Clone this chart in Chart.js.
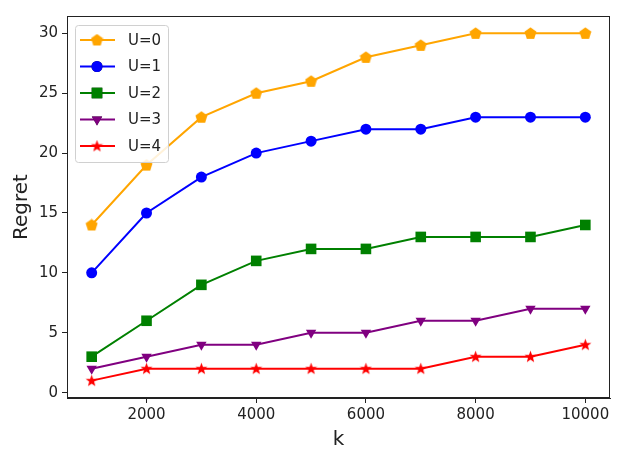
<!DOCTYPE html>
<html>
<head>
<meta charset="utf-8">
<script src="https://cdn.jsdelivr.net/npm/chart.js@4.4.0/dist/chart.umd.min.js"></script>
<style>
    html, body { margin: 0; padding: 0; background: #fff; }
</style>
</head>
<body>
<canvas id="regret_chart" width="628" height="471"></canvas>
<script>
// data
const k_values = [1000, 2000, 3000, 4000, 5000, 6000, 7000, 8000, 9000, 10000];
const regret_u0 = [14, 19, 23, 25, 26, 28, 29, 30, 30, 30];
const regret_u1 = [10, 15, 18, 20, 21, 22, 22, 23, 23, 23];
const regret_u2 = [3, 6, 9, 11, 12, 12, 13, 13, 13, 14];
const regret_u3 = [2, 3, 4, 4, 5, 5, 6, 6, 7, 7];
const regret_u4 = [1, 2, 2, 2, 2, 2, 2, 3, 3, 4];
const series_labels = ['U=0', 'U=1', 'U=2', 'U=3', 'U=4'];
const x_ticks = [2000, 4000, 6000, 8000, 10000];
const y_ticks = [0, 5, 10, 15, 20, 25, 30];

const tickFont = { family: 'DejaVu Sans', size: 15 };

// custom markers (pentagon and filled star) drawn on small canvases
function makeMarker(color, sides, inner) {
    let c = document.createElement('canvas');
    c.width = 13; c.height = 13;
    let ctx = c.getContext('2d');
    let n = inner ? sides * 2 : sides;
    ctx.beginPath();
    for (let i = 0; i < n; i++) {
        let r = (inner && i % 2 == 1) ? inner : 6.3;
        let a = -Math.PI / 2 + i * 2 * Math.PI / n;
        let px = 6.5 + r * Math.cos(a), py = 6.8 + r * Math.sin(a);
        if (i == 0) ctx.moveTo(px, py); else ctx.lineTo(px, py);
    }
    ctx.closePath();
    ctx.fillStyle = color;
    ctx.fill();
    return c;
}
const pentagon = makeMarker('#FFA500', 5, 0);
const star = makeMarker('#FF0000', 5, 2.6);

function toPoints(vals) {
    return vals.map((v, i) => ({ x: k_values[i], y: v }));
}

const styles = [
    { color: '#FFA500', pointStyle: pentagon, radius: 6, rotation: 0 },
    { color: '#0000FF', pointStyle: 'circle', radius: 5.5, rotation: 0 },
    { color: '#008000', pointStyle: 'rect', radius: 7.5, rotation: 0 },
    { color: '#800080', pointStyle: 'triangle', radius: 6, rotation: 180 },
    { color: '#FF0000', pointStyle: star, radius: 6, rotation: 0 }
];
const series_values = [regret_u0, regret_u1, regret_u2, regret_u3, regret_u4];

let datasets = series_values.map((vals, i) => ({
    label: series_labels[i],
    data: toPoints(vals),
    borderColor: styles[i].color,
    backgroundColor: styles[i].color,
    borderWidth: 2,
    pointStyle: styles[i].pointStyle,
    pointRadius: styles[i].radius,
    pointRotation: styles[i].rotation,
    pointBorderWidth: 0,
    tension: 0
}));

// frame around the plot area
const framePlugin = {
    id: 'frame',
    afterDatasetsDraw(chart) {
        let a = chart.chartArea, ctx = chart.ctx;
        ctx.save();
        ctx.strokeStyle = '#222';
        ctx.lineWidth = 1;
        ctx.strokeRect(a.left + 0.5, a.top + 0.5, a.right - a.left - 1, a.bottom - a.top - 1);
        ctx.restore();
    }
};

// matplotlib-like legend inside the upper left corner
const innerLegend = {
    id: 'innerLegend',
    afterDraw(chart) {
        let ctx = chart.ctx;
        let a = chart.chartArea;
        let bx = a.left + 8, by = a.top + 9, bw = 93, bh = 137;
        ctx.save();
        ctx.fillStyle = 'rgba(255,255,255,0.85)';
        ctx.strokeStyle = '#d0d0d0';
        ctx.lineWidth = 1;
        ctx.beginPath();
        ctx.roundRect(bx + 0.5, by + 0.5, bw, bh, 3);
        ctx.fill();
        ctx.stroke();
        chart.data.datasets.forEach((ds, i) => {
            let y = by + 15 + i * 26.5;
            ctx.strokeStyle = ds.borderColor;
            ctx.lineWidth = 2;
            ctx.beginPath();
            ctx.moveTo(bx + 5, y);
            ctx.lineTo(bx + 40, y);
            ctx.stroke();
            Chart.helpers.drawPoint(ctx, {
                pointStyle: ds.pointStyle,
                radius: ds.pointRadius,
                rotation: ds.pointRotation,
                borderWidth: 0
            }, bx + 22, y);
            ctx.fillStyle = ds.backgroundColor;
            ctx.fill();
            ctx.fillStyle = '#222';
            ctx.font = '15px "DejaVu Sans"';
            ctx.textAlign = 'left';
            ctx.textBaseline = 'middle';
            ctx.fillText(ds.label, bx + 53, y + 1);
        });
        ctx.restore();
    }
};

new Chart(document.getElementById('regret_chart'), {
    type: 'line',
    data: { datasets: datasets },
    options: {
        responsive: false,
        animation: false,
        devicePixelRatio: 1,
        events: [],
        layout: { padding: { left: 0, right: 18, top: 16, bottom: 0 } },
        plugins: { legend: { display: false }, tooltip: { enabled: false } },
        scales: {
            x: {
                type: 'linear',
                min: 550,
                max: 10450,
                afterBuildTicks: (scale) => { scale.ticks = x_ticks.map(v => ({ value: v })); },
                afterFit: (scale) => { scale.height = 73; },
                grid: { drawOnChartArea: false, drawTicks: true, tickLength: 5, color: '#222' },
                border: { display: true, color: '#222' },
                ticks: { color: '#222', font: tickFont, padding: 3, maxRotation: 0, callback: (v) => String(v) },
                title: { display: true, text: 'k', color: '#222', font: { family: 'DejaVu Sans', size: 20 }, padding: { top: 19, bottom: 19 } }
            },
            y: {
                min: -0.45,
                max: 31.45,
                afterBuildTicks: (scale) => { scale.ticks = y_ticks.map(v => ({ value: v })); },
                afterFit: (scale) => { scale.width = 67; },
                grid: { drawOnChartArea: false, drawTicks: true, tickLength: 5, color: '#222' },
                border: { display: true, color: '#222' },
                ticks: { color: '#222', font: tickFont, padding: 4, callback: (v) => String(v) },
                title: { display: true, text: 'Regret', color: '#222', font: { family: 'DejaVu Sans', size: 20 }, padding: { top: 10, bottom: 10 } }
            }
        }
    },
    plugins: [framePlugin, innerLegend]
});
</script>
</body>
</html>
